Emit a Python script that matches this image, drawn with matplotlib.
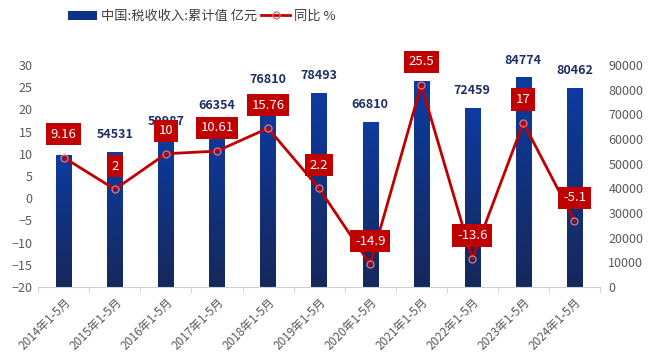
import numpy as np
import matplotlib
matplotlib.use('Agg')
import matplotlib.pyplot as plt
from matplotlib.colors import LinearSegmentedColormap
from matplotlib.patches import Patch
from matplotlib.lines import Line2D

# ─── Datos ────────────────────────────────────────────────────────────────────
periodos = ["2014年1-5月", "2015年1-5月", "2016年1-5月", "2017年1-5月",
            "2018年1-5月", "2019年1-5月", "2020年1-5月", "2021年1-5月",
            "2022年1-5月", "2023年1-5月", "2024年1-5月"]
ingresos = [53200, 54531, 59987, 66354, 76810, 78493, 66810, 83500,
            72459, 84774, 80462]
etiquetas_barra = [None, "54531", "59987", "66354", "76810", "78493", "66810",
                   None, "72459", "84774", "80462"]
yoy = [9.16, 2, 10, 10.61, 15.76, 2.2, -14.9, 25.5, -13.6, 17, -5.1]

# ─── Estilo ───────────────────────────────────────────────────────────────────
plt.rcParams['font.family'] = ['Noto Sans CJK SC', 'DejaVu Sans']

ROJO = '#c00000'
AZUL_TXT = '#1f2f66'
GRIS = '#595959'

fig = plt.figure(figsize=(6.6, 3.61), dpi=100)
ax = fig.add_axes([0.058, 0.205, 0.851, 0.615])
ax2 = ax.twinx()

x = np.arange(len(periodos))
ancho = 0.3

# barras con degradado
cmap = LinearSegmentedColormap.from_list('azul', ['#16285a', '#0d3ba0'])
grad = np.linspace(0, 1, 256).reshape(-1, 1)
for xi, h in zip(x, ingresos):
    ax.imshow(grad, cmap=cmap, origin='lower', aspect='auto',
              extent=(xi - ancho / 2, xi + ancho / 2, 0, h), zorder=2)
for xi, h, lab in zip(x, ingresos, etiquetas_barra):
    if lab:
        ax.annotate(lab, (xi, h), xytext=(0, 8), textcoords='offset points',
                    ha='center', va='bottom', fontsize=9, fontweight='bold',
                    color=AZUL_TXT, zorder=3)

ax.set_xlim(-0.5, len(periodos) - 0.5)
ax.set_ylim(0, 90000)
ax.set_yticks(np.arange(0, 90001, 10000))
ax.yaxis.tick_right()
ax.tick_params(axis='y', length=0, labelsize=9, labelcolor=GRIS, pad=6)

ax.set_xticks(x)
ax.set_xticklabels(periodos, rotation=45, ha='right', rotation_mode='anchor',
                   fontsize=8.5, color=GRIS)
ax.set_xticks(np.arange(-0.5, len(periodos)), minor=True)
ax.tick_params(axis='x', which='major', length=0, pad=6)
ax.tick_params(axis='x', which='minor', length=4, color='#d0d0d0')

for s in ['top', 'left', 'right']:
    ax.spines[s].set_visible(False)
    ax2.spines[s].set_visible(False)
ax.spines['bottom'].set_color('#d0d0d0')
ax2.spines['bottom'].set_visible(False)

# línea de variación interanual
ax2.plot(x, yoy, color=ROJO, linewidth=2, zorder=4)
ax2.plot(x, yoy, 'o', markersize=5, markerfacecolor='none',
         markeredgecolor='#d9707a', markeredgewidth=1, zorder=5)
for xi, v in zip(x, yoy):
    ax2.annotate(f"{v:g}", (xi, v), xytext=(0, 12), textcoords='offset points',
                 ha='center', va='bottom', fontsize=9.5, color='white',
                 bbox=dict(boxstyle='square,pad=0.35', fc=ROJO, ec='none'),
                 zorder=6)

ax2.set_ylim(-20, 30)
ax2.set_yticks(np.arange(-20, 31, 5))
ax2.yaxis.tick_left()
ax2.tick_params(axis='y', length=0, labelsize=9, labelcolor=GRIS, pad=4)

# leyenda
handles = [Patch(facecolor='#0d3388', edgecolor='none'),
           Line2D([0], [0], color=ROJO, linewidth=2, marker='o', markersize=5,
                  markerfacecolor='none', markeredgecolor='#d9707a')]
fig.legend(handles, ["中国:税收收入:累计值 亿元", "同比 %"],
           loc='upper left', bbox_to_anchor=(0.085, 1.005), ncol=2, frameon=False,
           fontsize=9.5, labelcolor='#404040', handlelength=2.2,
           handletextpad=0.3, columnspacing=0.3)

fig.savefig('out.png', dpi=100, facecolor='white')
